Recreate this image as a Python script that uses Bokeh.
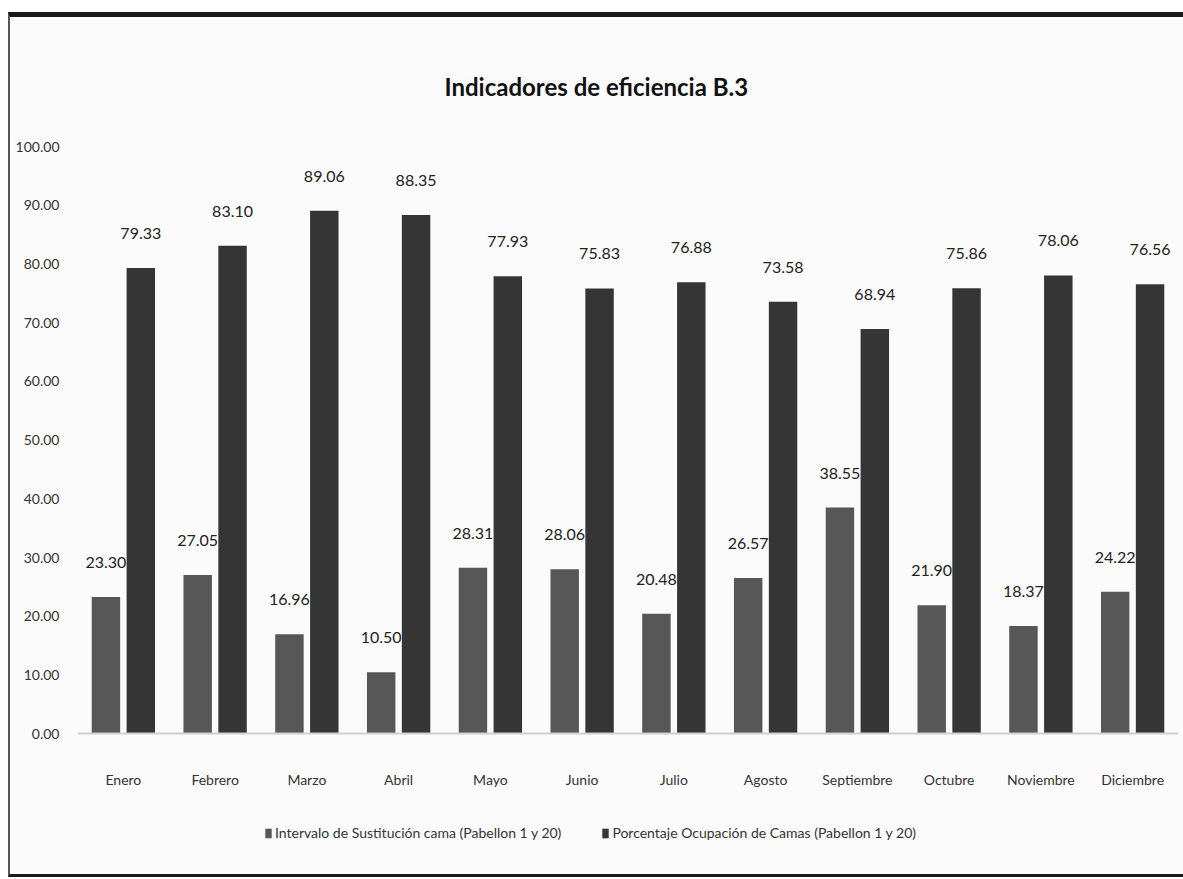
from bokeh.plotting import figure
from bokeh.models import ColumnDataSource, FactorRange, Range1d, LabelSet, Legend, LegendItem, NumeralTickFormatter, Title
from bokeh.core.properties import value
from bokeh.transform import dodge
from bokeh.embed import file_html
from bokeh.resources import INLINE

months = ["Enero", "Febrero", "Marzo", "Abril", "Mayo", "Junio", "Julio",
          "Agosto", "Septiembre", "Octubre", "Noviembre", "Diciembre"]
intervalo = [23.30, 27.05, 16.96, 10.50, 28.31, 28.06, 20.48, 26.57, 38.55, 21.90, 18.37, 24.22]
ocupacion = [79.33, 83.10, 89.06, 88.35, 77.93, 75.83, 76.88, 73.58, 68.94, 75.86, 78.06, 76.56]
series_names = ["Intervalo de Sustitución cama (Pabellon 1 y 20)",
                "Porcentaje Ocupación de Camas (Pabellon 1 y 20)"]
y_ticks = [0, 10, 20, 30, 40, 50, 60, 70, 80, 90, 100]

FONT = "Lato"

src = ColumnDataSource(dict(
    month=months,
    a=intervalo,
    b=ocupacion,
    a_lbl=["%.2f" % v for v in intervalo],
    b_lbl=["%.2f" % v for v in ocupacion],
))

p = figure(x_range=FactorRange(*months, range_padding=0), y_range=Range1d(-22.9, 100),
           width=1175, height=865, output_backend="svg", toolbar_location=None,
           min_border_left=67, min_border_right=7, min_border_top=129, min_border_bottom=14)
p.margin = (12, 0, 0, 8)
p.styles = {"border-top": "5px solid #1a1a1a", "border-left": "2px solid #555555",
            "border-bottom": "3px solid #1a1a1a", "box-sizing": "border-box"}
p.background_fill_color = "#fbfbfb"
p.border_fill_color = "#fbfbfb"
p.outline_line_color = None
p.grid.visible = False

r1 = p.vbar(x=dodge("month", -0.19, range=p.x_range), top="a", width=0.31, source=src,
            fill_color="#575757", line_color=None)
r2 = p.vbar(x=dodge("month", 0.19, range=p.x_range), top="b", width=0.31, source=src,
            fill_color="#353535", line_color=None)

for col, lbl, off in (("a", "a_lbl", -0.19), ("b", "b_lbl", 0.19)):
    ls = LabelSet(x=dodge("month", off, range=p.x_range), y=col, text=lbl, source=src,
                  text_align="center", text_baseline="bottom", y_offset=29,
                  text_font=value(FONT), text_font_size=value("16px"), text_color="#222222")
    p.add_layout(ls)

p.yaxis.ticker = y_ticks
p.yaxis.formatter = NumeralTickFormatter(format="0.00")
p.yaxis.axis_line_color = None
p.yaxis.major_tick_line_color = None
p.yaxis.minor_tick_line_color = None
p.yaxis.major_label_text_font = FONT
p.yaxis.major_label_text_font_size = "14px"
p.yaxis.major_label_text_color = "#333333"
p.yaxis.major_label_standoff = 12

p.xaxis.fixed_location = 0
p.xaxis.axis_line_color = "#cfcfcf"
p.xaxis.axis_line_width = 2
p.xaxis.major_tick_line_color = None
p.xaxis.minor_tick_line_color = None
p.xaxis.major_label_text_font = FONT
p.xaxis.major_label_text_font_size = "14px"
p.xaxis.major_label_text_color = "#333333"
p.xaxis.major_label_standoff = 31

legend = Legend(items=[LegendItem(label=series_names[0], renderers=[r1]),
                       LegendItem(label=series_names[1], renderers=[r2])],
                orientation="horizontal", location=(187, 27),
                label_text_font=FONT, label_text_font_size="14px", label_text_color="#333333",
                glyph_width=8, glyph_height=12, spacing=40, label_standoff=3,
                border_line_color=None, background_fill_alpha=0)
p.add_layout(legend)

title = Title(text="Indicadores de eficiencia B.3", align="left",
              text_font="Lato", text_font_size="24px", text_font_style="bold",
              text_color="#111111", standoff=92, offset=367)
p.add_layout(title, "above")

open("out.html", "w").write(file_html(p, INLINE))
